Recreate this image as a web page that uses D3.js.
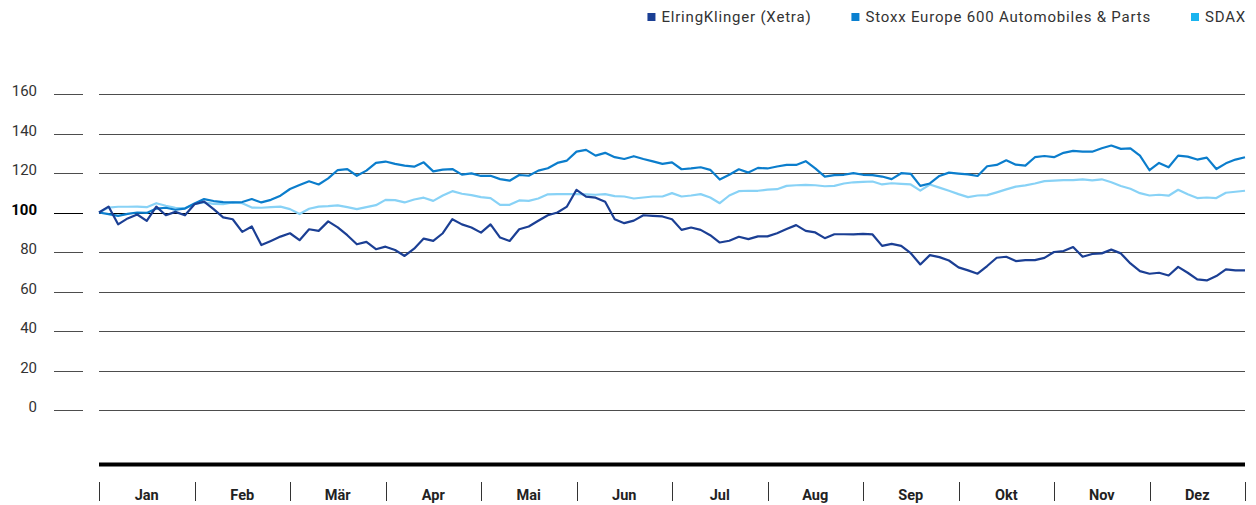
<!DOCTYPE html>
<html>
<head>
<meta charset="utf-8">
<style>
body { margin:0; background:#fff; }
svg { display:block; font-family: Roboto, "Noto Sans", sans-serif; }
.legend text { font-size:15px; fill:#333; letter-spacing:0.8px; }
.ylab { font-size:15px; fill:#333; }
.month { font-size:14.5px; font-weight:bold; fill:#222; }
</style>
</head>
<body>
<svg id="chart" width="1256" height="505"></svg>
<script src="https://cdnjs.cloudflare.com/ajax/libs/d3/7.8.5/d3.min.js"></script>
<script>
var months = ["Jan","Feb","Mär","Apr","Mai","Jun","Jul","Aug","Sep","Okt","Nov","Dez"];
var yTicks = [0,20,40,60,80,100,120,140,160];
var seriesNames = ["ElringKlinger (Xetra)","Stoxx Europe 600 Automobiles & Parts","SDAX"];

// index values, about two trading days per point (10 per month)
var elring = [100,103,94,97,99,95.8,103,98.6,100.3,98.6,
  104.2,105.5,101.7,97.5,96.6,90.2,92.9,83.5,85.6,87.8,
  89.5,86,91.5,90.7,95.5,92.5,88.5,83.9,85.1,81.4,
  82.7,81,78,81.7,86.8,85.6,89.5,96.6,94,92.4,
  89.8,94,87.3,85.6,91.5,92.9,95.8,98.6,100,103,
  111.5,108,107.5,105.4,96.6,94.6,95.9,98.6,98.3,98,
  96.6,91.2,92.4,91.2,88.5,84.8,85.7,87.7,86.5,87.9,
  87.9,89.5,91.6,93.6,90.7,89.9,87,89,89,88.9,
  89.2,88.9,83.1,84.1,83.1,79.4,73.7,78.4,77.4,75.7,
  72.2,70.7,69,72.9,77.1,77.6,75.4,75.9,75.9,77,
  80,80.5,82.5,77.6,79,79.3,81.2,79.3,74.2,70.3,
  69,69.5,68.1,72.5,69.5,66.1,65.6,67.8,71.2,70.7,70.7];

var stoxx = [100,99.2,98.3,99.3,100,99.8,102,102.4,101.4,102,
  104.6,106.8,105.8,105.3,105.1,105.3,106.8,105.1,106.4,108.5,
  111.9,113.9,115.8,114.2,117.3,121.5,122,118.6,121.2,125.1,
  125.8,124.6,123.7,123.2,125.4,120.8,121.7,122,119.2,119.8,
  118.5,118.6,116.9,116.1,119,118.6,121.2,122.4,125.1,126.3,
  130.8,131.7,128.8,130.2,128,127.1,128.5,127.1,125.9,124.6,
  125.4,121.9,122.3,122.9,121.6,116.7,119.1,121.9,120.2,122.6,
  122.3,123.3,124.1,124.1,126,122.3,118.2,118.9,119.1,119.9,
  119.1,118.9,118.2,116.9,119.9,119.6,113.5,114.7,118.5,120.2,
  119.7,119.3,118.5,123.4,124.1,126.4,124.2,123.7,128,128.6,
  128,130.2,131.2,130.8,130.8,132.5,133.9,132.2,132.5,128.8,
  121.4,125.1,122.9,128.8,128.3,126.8,127.8,122,124.9,126.8,128];

var sdax = [100,102.5,102.9,102.9,103,102.7,104.7,103.4,102.4,102.2,
  104.4,105.1,104.4,104.2,105.1,104.7,102.5,102.4,102.7,103,
  101.7,99.2,101.9,103,103.2,103.6,102.7,101.7,102.7,103.7,
  106.4,106.3,105.1,106.6,107.5,105.9,108.6,110.8,109.5,108.8,
  107.8,107.3,103.9,103.9,106.1,105.9,107.1,109.2,109.3,109.3,
  109.3,109.2,109,109.3,108.3,108.1,107.1,107.6,108.1,108.1,
  109.8,108.1,108.6,109.3,107.6,104.7,108.6,110.8,111,111,
  111.6,111.8,113.5,113.8,114,113.8,113.3,113.5,114.7,115.3,
  115.5,115.7,114.2,114.8,114.5,114.2,111.1,114.2,112.6,111,
  109.3,107.8,108.6,108.8,110.2,111.7,113.1,113.7,114.7,115.9,
  116.1,116.4,116.4,116.8,116.3,116.8,115.3,113.4,112,109.8,
  108.6,109,108.5,111.5,109.2,107.3,107.6,107.3,110,110.5,111];

var lineColors = ["#1b3f94","#0b7dcc","#88d2f6"];
var keyColors  = ["#1b3f94","#0a80d0","#1ab4ef"];

var svg = d3.select("#chart");
var x0 = 99, x1 = 1245;

var x = d3.scaleLinear().domain([0, elring.length - 1]).range([x0, x1]);
var y = d3.scaleLinear().domain([0, 160]).range([410, 94]);
var xm = d3.scaleBand().domain(months).range([x0, x1]);

// grid lines with the short stub next to the labels
var grid = svg.append("g");
yTicks.forEach(function(t) {
  var yy = Math.round(y(t)) + 0.5;
  var col = t === 100 ? "#000" : "#4d4d4d";
  grid.append("line").attr("x1", 54).attr("x2", 83).attr("y1", yy).attr("y2", yy)
    .attr("stroke", col).attr("stroke-width", 1);
  grid.append("line").attr("x1", x0).attr("x2", x1).attr("y1", yy).attr("y2", yy)
    .attr("stroke", col).attr("stroke-width", 1);
  grid.append("text").attr("class", "ylab")
    .attr("x", 37).attr("y", yy + 1)
    .attr("text-anchor", "end")
    .style("font-weight", t === 100 ? "bold" : "normal")
    .style("fill", t === 100 ? "#000" : "#333")
    .text(t);
});

// lines
var line = d3.line().x(function(d, i) { return x(i); }).y(function(d) { return y(d); });
[sdax, stoxx, elring].forEach(function(s, k) {
  svg.append("path").attr("d", line(s))
    .attr("fill", "none")
    .attr("stroke", lineColors[2 - k])
    .attr("stroke-width", 2.2)
    .attr("stroke-linejoin", "round");
});

// thick base bar
svg.append("rect").attr("x", x0).attr("y", 462.5).attr("width", x1 - x0).attr("height", 4).attr("fill", "#000");

// month ticks and labels
var mticks = months.map(function(m) { return xm(m); }).concat([x1]);
svg.selectAll(".mtick").data(mticks).enter().append("line")
  .attr("x1", function(d) { return Math.round(d) + 0.5; })
  .attr("x2", function(d) { return Math.round(d) + 0.5; })
  .attr("y1", 482).attr("y2", 501)
  .attr("stroke", "#333").attr("stroke-width", 1);
svg.selectAll(".month").data(months).enter().append("text")
  .attr("class", "month")
  .attr("x", function(d) { return xm(d) + xm.bandwidth() / 2; })
  .attr("y", 500)
  .attr("text-anchor", "middle")
  .text(function(d) { return d; });

// legend, laid out from the right edge
var lg = svg.append("g").attr("class", "legend");
var right = 1246;
for (var i = seriesNames.length - 1; i >= 0; i--) {
  var t = lg.append("text").attr("y", 22).text(seriesNames[i]);
  var w = t.node().getComputedTextLength();
  var tx = right - w;
  t.attr("x", tx);
  lg.append("rect").attr("x", tx - 14).attr("y", 13).attr("width", 8).attr("height", 8).attr("fill", keyColors[i]);
  right = tx - 14 - 40;
}
</script>
</body>
</html>
